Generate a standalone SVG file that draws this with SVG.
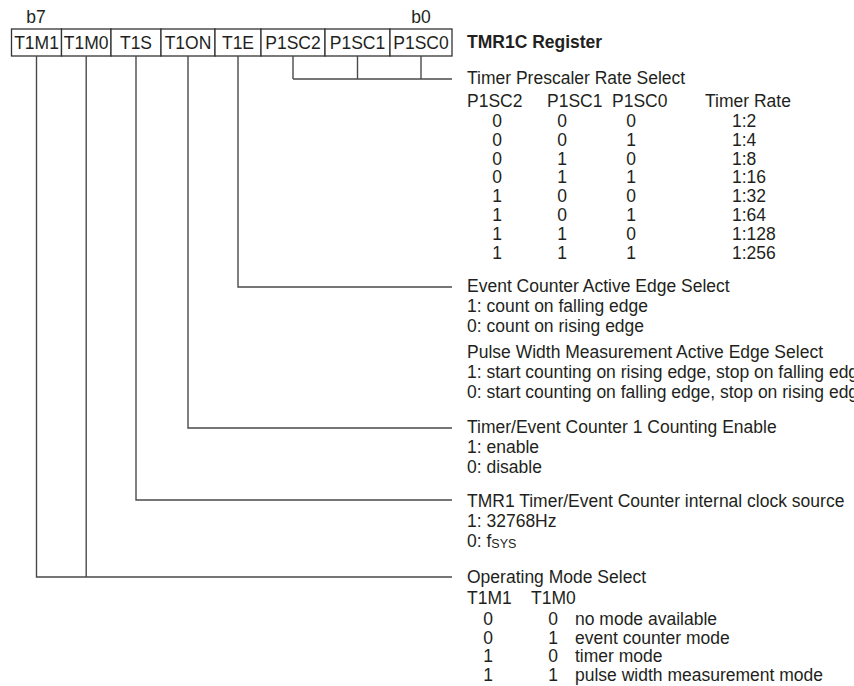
<svg xmlns="http://www.w3.org/2000/svg" width="854" height="686" viewBox="0 0 854 686">
<style>
text{font-family:"Liberation Sans",Arial,sans-serif;font-size:17.5px;fill:#231f20}
.b{font-weight:bold}
.m{text-anchor:middle}
.box{fill:#fff;stroke:#333;stroke-width:1.3}
.ln{fill:none;stroke:#4a4a4a;stroke-width:1.4}
</style>
<rect width="854" height="686" fill="#fff"/>
<g id="register">
<text x="36" y="23" class="m">b7</text>
<text x="421" y="23" class="m">b0</text>
<g id="bit-T1M1"><rect class="box" x="11.5" y="29" width="50" height="27"/><text x="36.5" y="49" class="m">T1M1</text></g>
<g id="bit-T1M0"><rect class="box" x="61.5" y="29" width="49.5" height="27"/><text x="86.2" y="49" class="m">T1M0</text></g>
<g id="bit-T1S"><rect class="box" x="111" y="29" width="50" height="27"/><text x="136" y="49" class="m">T1S</text></g>
<g id="bit-T1ON"><rect class="box" x="161" y="29" width="54" height="27"/><text x="188" y="49" class="m">T1ON</text></g>
<g id="bit-T1E"><rect class="box" x="215" y="29" width="46" height="27"/><text x="238" y="49" class="m">T1E</text></g>
<g id="bit-P1SC2"><rect class="box" x="261" y="29" width="64" height="27"/><text x="293" y="49" class="m">P1SC2</text></g>
<g id="bit-P1SC1"><rect class="box" x="325" y="29" width="65" height="27"/><text x="357.5" y="49" class="m">P1SC1</text></g>
<g id="bit-P1SC0"><rect class="box" x="390" y="29" width="62" height="27"/><text x="421" y="49" class="m">P1SC0</text></g>
<text x="467" y="48" class="b">TMR1C Register</text>
</g>
<g id="connectors">
<path class="ln" d="M293 56V79M357.5 56V79M421 56V79M293 79H452"/>
<path class="ln" d="M238 56V287H452"/>
<path class="ln" d="M188 56V428H452"/>
<path class="ln" d="M136 56V500H452"/>
<path class="ln" d="M86.2 56V577M36.5 56V577H452"/>
</g>
<g id="prescaler">
<text x="467" y="84">Timer Prescaler Rate Select</text>
<text x="467" y="107">P1SC2</text><text x="547" y="107">P1SC1</text><text x="612" y="107">P1SC0</text><text x="705" y="107">Timer Rate</text>
<g class="m">
<text x="497" y="127">0</text><text x="562" y="127">0</text><text x="631" y="127">0</text>
<text x="497" y="145.8">0</text><text x="562" y="145.8">0</text><text x="631" y="145.8">1</text>
<text x="497" y="164.6">0</text><text x="562" y="164.6">1</text><text x="631" y="164.6">0</text>
<text x="497" y="183.4">0</text><text x="562" y="183.4">1</text><text x="631" y="183.4">1</text>
<text x="497" y="202.2">1</text><text x="562" y="202.2">0</text><text x="631" y="202.2">0</text>
<text x="497" y="221">1</text><text x="562" y="221">0</text><text x="631" y="221">1</text>
<text x="497" y="239.8">1</text><text x="562" y="239.8">1</text><text x="631" y="239.8">0</text>
<text x="497" y="258.6">1</text><text x="562" y="258.6">1</text><text x="631" y="258.6">1</text>
</g>
<text x="732" y="127">1:2</text>
<text x="732" y="145.8">1:4</text>
<text x="732" y="164.6">1:8</text>
<text x="732" y="183.4">1:16</text>
<text x="732" y="202.2">1:32</text>
<text x="732" y="221">1:64</text>
<text x="732" y="239.8">1:128</text>
<text x="732" y="258.6">1:256</text>
</g>
<g id="t1e">
<text x="467" y="292">Event Counter Active Edge Select</text>
<text x="467" y="312">1: count on falling edge</text>
<text x="467" y="332">0: count on rising edge</text>
<text x="467" y="358">Pulse Width Measurement Active Edge Select</text>
<text x="467" y="378">1: start counting on rising edge, stop on falling edge</text>
<text x="467" y="398">0: start counting on falling edge, stop on rising edge</text>
</g>
<g id="t1on">
<text x="467" y="433">Timer/Event Counter 1 Counting Enable</text>
<text x="467" y="453">1: enable</text>
<text x="467" y="473">0: disable</text>
</g>
<g id="t1s">
<text x="467" y="507">TMR1 Timer/Event Counter internal clock source</text>
<text x="467" y="527">1: 32768Hz</text>
<text x="467" y="547">0: f<tspan font-size="12.5" dy="1">SYS</tspan></text>
</g>
<g id="t1m">
<text x="467" y="583">Operating Mode Select</text>
<text x="467" y="604">T1M1</text><text x="531" y="604">T1M0</text>
<g class="m">
<text x="488" y="625">0</text><text x="553" y="625">0</text>
<text x="488" y="643.5">0</text><text x="553" y="643.5">1</text>
<text x="488" y="662">1</text><text x="553" y="662">0</text>
<text x="488" y="680.5">1</text><text x="553" y="680.5">1</text>
</g>
<text x="575" y="625">no mode available</text>
<text x="575" y="643.5">event counter mode</text>
<text x="575" y="662">timer mode</text>
<text x="575" y="680.5">pulse width measurement mode</text>
</g>
</svg>
